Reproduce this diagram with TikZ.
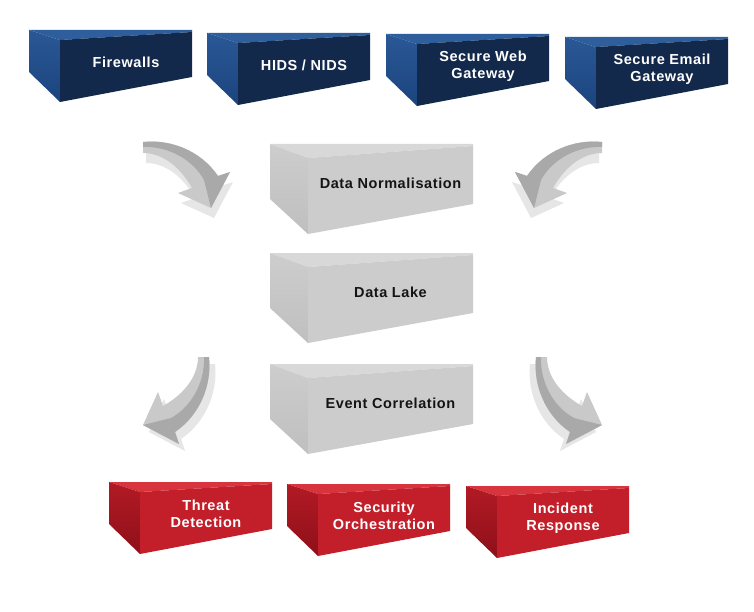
\documentclass[tikz,border=0pt]{standalone}
\usepackage{fontspec}
\newfontfamily\lblfont{Liberation Sans}[LetterSpace=4.0]
\definecolor{bluetop}{HTML}{2F5E9C}
\definecolor{blueside1}{HTML}{2A5896}
\definecolor{blueside2}{HTML}{1B447E}
\definecolor{bluefront}{HTML}{13294B}
\definecolor{redtop}{HTML}{D8343E}
\definecolor{redside1}{HTML}{B21A25}
\definecolor{redside2}{HTML}{8E1019}
\definecolor{redfront}{HTML}{C21F2B}
\definecolor{graytop}{HTML}{D8D8D8}
\definecolor{grayside1}{HTML}{CDCDCD}
\definecolor{grayside2}{HTML}{BFBFBF}
\definecolor{grayfront}{HTML}{CCCCCC}
\definecolor{arrdark}{HTML}{A9A9A9}
\definecolor{arrlight}{HTML}{C9C9C9}
\definecolor{arrshadow}{HTML}{E6E6E6}
% geometry parameters of the prisms
\newcommand\smallgeom{\def\bw{163}\def\bdx{31}\def\bcy{10}\def\bfy{42}\def\bdy{72}\def\bey{47}\def\bty{32}}
\newcommand\biggeom{\def\bw{203}\def\bdx{38}\def\bcy{14}\def\bfy{55}\def\bdy{90}\def\bey{60}\def\bty{39.5}}
\newcommand\prism[4]{%
  \fill[#4top] (#2,#3) -- ({#2+\bw},{#3}) -- ({#2+\bw},{#3+2}) -- ({#2+\bdx},{#3+\bcy}) -- cycle;
  \shade[top color=#4side1, bottom color=#4side2] (#2,#3) -- ({#2+\bdx},{#3+\bcy}) -- ({#2+\bdx},{#3+\bdy}) -- (#2,{#3+\bfy}) -- cycle;
  \fill[#4front] ({#2+\bdx},{#3+\bcy}) -- ({#2+\bw},{#3+2}) -- ({#2+\bw},{#3+\bey}) -- ({#2+\bdx},{#3+\bdy}) -- cycle;
  \coordinate (#1) at ({#2+(\bdx+\bw)/2},{#3+\bty});
}
\tikzset{
  lighttext/.style={text=white, font=\lblfont\bfseries\fontsize{14.5}{17}\selectfont, align=center, inner sep=0pt},
  darktext/.style={text=black!92, font=\lblfont\bfseries\fontsize{14.5}{17}\selectfont, align=center, inner sep=0pt},
  arrowbody/.pic={
    \fill[arrlight] (0,-1) .. controls (28,-4) and (58,8) .. (75,33) -- (87,29) -- (68,65) -- (35,50) -- (49,45) .. controls (36,22) and (18,10) .. (0,10) -- cycle;
    \fill[arrdark] (0,-1) .. controls (28,-4) and (58,8) .. (75,33) -- (87,29) -- (68,65) -- (61,37) .. controls (50,17) and (26,3) .. (0,4) -- cycle;
  },
  arrowshadow/.pic={
    \fill[arrshadow] (0,-1) .. controls (28,-4) and (58,8) .. (75,33) -- (87,29) -- (68,65) -- (35,50) -- (49,45) .. controls (36,22) and (18,10) .. (0,10) -- cycle;
  }
}
\begin{document}
\begin{tikzpicture}[x=1pt,y=-1pt]
\useasboundingbox[fill=white] (0,0) rectangle (754,612);
% ---- arrows (shadows first)
\pic at (146,153) {arrowshadow};
\pic[xscale=-1] at (599,153) {arrowshadow};
\pic[rotate=-90] at (214,364) {arrowshadow};
\pic[xscale=-1, rotate=-90] at (531,364) {arrowshadow};
\pic at (143,143) {arrowbody};
\pic[xscale=-1] at (602,143) {arrowbody};
\pic[rotate=-90] at (208,357) {arrowbody};
\pic[xscale=-1, rotate=-90] at (537,357) {arrowbody};
% ---- top (blue) row
\smallgeom
\prism{fw}{29}{30}{blue}
\prism{hids}{207}{33}{blue}
\prism{swg}{386}{34}{blue}
\prism{seg}{565}{37}{blue}
\node[lighttext] (fwt) at (fw) {Firewalls};
\node[lighttext] (hidst) at (hids) {HIDS / NIDS};
\node[lighttext] (swgt) at (swg) {Secure Web\\Gateway};
\node[lighttext] (segt) at (seg) {Secure Email\\Gateway};
% ---- middle (gray) column
\biggeom
\prism{dn}{270}{144}{gray}
\prism{dl}{270}{253}{gray}
\prism{ec}{270}{364}{gray}
\node[darktext] (dnt) at (dn) {Data Normalisation};
\node[darktext] (dlt) at (dl) {Data Lake};
\node[darktext] (ect) at (ec) {Event Correlation};
% ---- bottom (red) row
\smallgeom
\prism{td}{109}{482}{red}
\prism{so}{287}{484}{red}
\prism{ir}{466}{486}{red}
\node[lighttext] (tdt) at (td) {Threat\\Detection};
\node[lighttext] (sot) at (so) {Security\\Orchestration};
\node[lighttext] (irt) at (ir) {Incident\\Response};
\end{tikzpicture}
\end{document}
